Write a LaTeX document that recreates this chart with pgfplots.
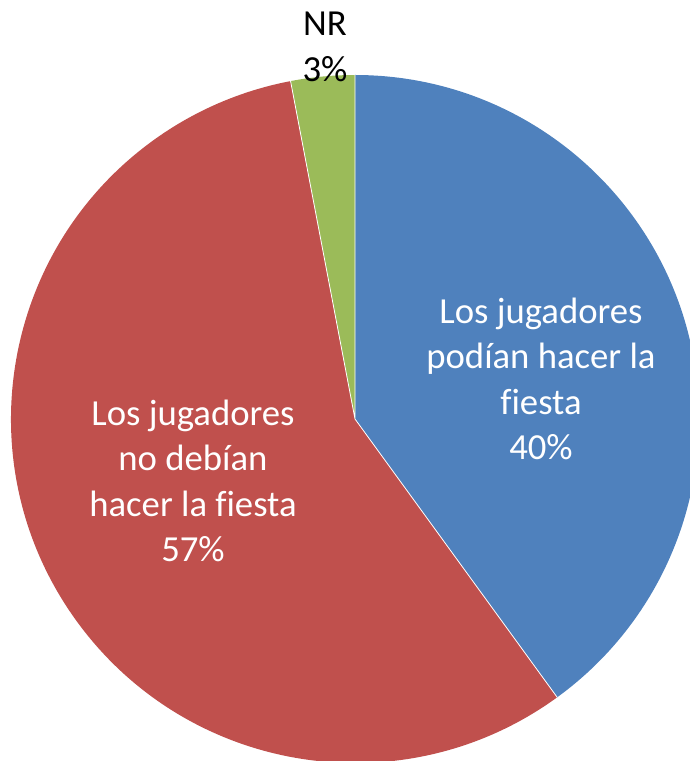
\documentclass[border=0pt]{standalone}
\usepackage{pgfplots}
\pgfplotsset{compat=1.18}
\usepackage{fontspec}
\setmainfont[Ligatures=NoCommon]{Carlito}

\definecolor{sliceblue}{HTML}{4F81BD}
\definecolor{slicered}{HTML}{C0504D}
\definecolor{slicegreen}{HTML}{9BBB59}

% shares in percent
\def\pA{40}  % podian
\def\pB{57}  % no debian
\def\pC{3}   % NR

\begin{document}
\begin{tikzpicture}
\clip (0,0) rectangle (345pt,380.5pt);
\begin{axis}[
    at={(0,0)}, anchor=south west,
    width=345pt, height=380.5pt,
    scale only axis,
    xmin=0, xmax=690, ymin=0, ymax=761,
    hide axis,
    clip=true,
]
% 1 axis unit = 0.5pt, radius 344 units
\pgfmathsetmacro{\aA}{90-3.6*\pA}
\pgfmathsetmacro{\aB}{\aA-3.6*\pB}
\pgfmathsetmacro{\aC}{\aB-3.6*\pC}
\fill[sliceblue] (axis cs:355,342) -- ++(90:172pt)
    arc[start angle=90, end angle=\aA, radius=172pt] -- cycle;
\fill[slicered] (axis cs:355,342) -- ++(\aA:172pt)
    arc[start angle=\aA, end angle=\aB, radius=172pt] -- cycle;
\fill[slicegreen] (axis cs:355,342) -- ++(\aB:172pt)
    arc[start angle=\aB, end angle=\aC, radius=172pt] -- cycle;
\draw[white, line width=0.4pt] (axis cs:355,342) -- ++(90:172pt)
    (axis cs:355,342) -- ++(\aA:172pt)
    (axis cs:355,342) -- ++(\aB:172pt);

\node[white, align=center, font=\fontsize{18.35pt}{22.75pt}\selectfont]
    at (axis cs:541,382) {Los jugadores\\podían hacer la\\fiesta\\40\%};
\node[white, align=center, font=\fontsize{18.35pt}{22.75pt}\selectfont]
    at (axis cs:193,280) {Los jugadores\\no debían\\hacer la fiesta\\57\%};
\node[black, align=center, font=\fontsize{18.35pt}{22.75pt}\selectfont]
    at (axis cs:325,714) {NR\\3\%};
\end{axis}
\end{tikzpicture}
\end{document}
